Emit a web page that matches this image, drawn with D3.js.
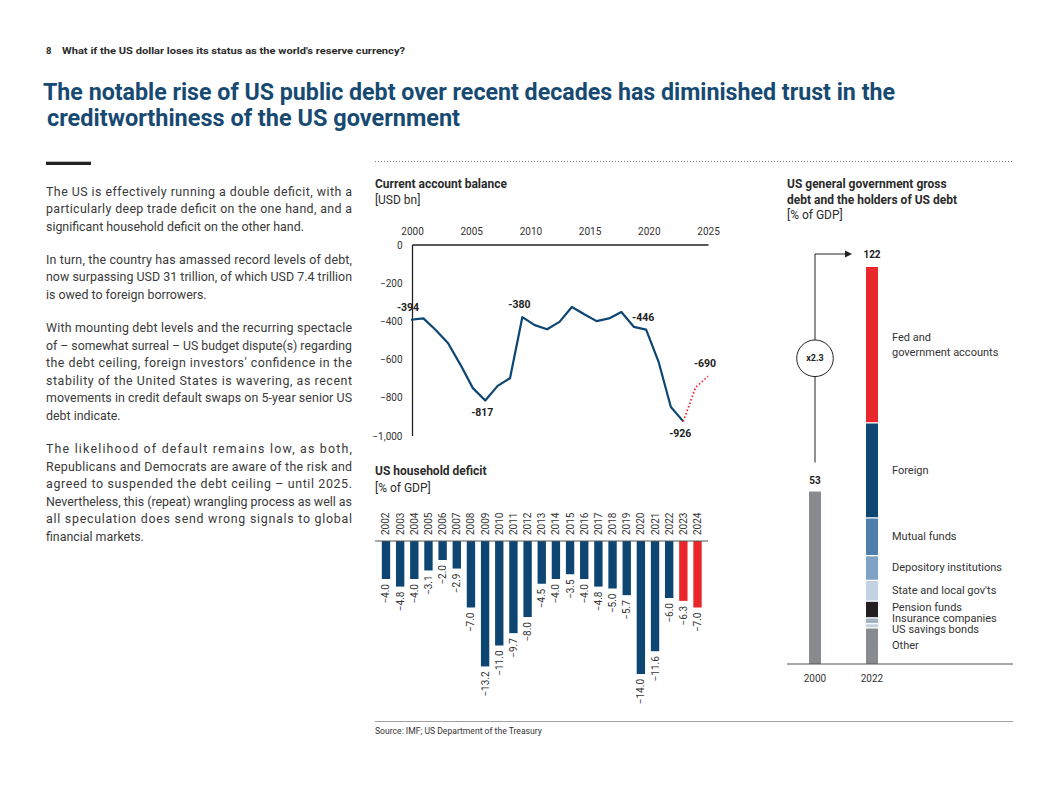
<!DOCTYPE html>
<meta charset="utf-8">
<head>
  <script src="https://d3js.org/d3.v7.min.js"></script>
  <style>
    body { margin: 0; background: #fff; font-family: Roboto, 'Noto Sans', sans-serif; }
  </style>
</head>
<body>
  <div id="chart"></div>
<script>
  // ---- data ----
  const ca_years = [2000, 2001, 2002, 2003, 2004, 2005, 2006, 2007, 2008, 2009, 2010, 2011,
    2012, 2013, 2014, 2015, 2016, 2017, 2018, 2019, 2020, 2021, 2022]
  const ca_values = [-394, -387, -448, -517, -630, -752, -817, -740, -700, -380, -422, -444,
    -405, -327, -365, -401, -387, -353, -431, -446, -613, -851, -926]
  const ca_proj_years = [2022, 2023, 2024]
  const ca_proj_values = [-926, -748, -690]
  const ca_label_years = [2000, 2006, 2009, 2019, 2022, 2024]
  const ca_label_below = [2006, 2022]
  const ca_tick_years = [2000, 2005, 2010, 2015, 2020, 2025]
  const ca_y_ticks = [0, -200, -400, -600, -800, -1000]

  const hh_years = ["2002", "2003", "2004", "2005", "2006", "2007", "2008", "2009", "2010", "2011", "2012",
    "2013", "2014", "2015", "2016", "2017", "2018", "2019", "2020", "2021", "2022", "2023", "2024"]
  const hh_values = [-4.0, -4.8, -4.0, -3.1, -2.0, -2.9, -7.0, -13.2, -11.0, -9.7, -8.0,
    -4.5, -4.0, -3.5, -4.0, -4.8, -5.0, -5.7, -14.0, -11.6, -6.0, -6.3, -7.0]
  const hh_projected = ["2023", "2024"]

  const debt_years = ["2000", "2022"]
  const debt_2000 = 53
  const holders = ["Other", "US savings bonds", "Insurance companies", "Pension funds",
    "State and local gov'ts", "Depository institutions", "Mutual funds", "Foreign", "Fed and government accounts"]
  const holder_labels = [["Other"], ["US savings bonds"], ["Insurance companies"], ["Pension funds"],
    ["State and local gov'ts"], ["Depository institutions"], ["Mutual funds"], ["Foreign"], ["Fed and", "government accounts"]]
  const holder_values = [11.3, 1.3, 1.8, 5.1, 6.4, 7.6, 11.6, 29.2, 47.7]
  const holder_colors = ["#878a8e", "#c4d0dc", "#a2b3c4", "#231f20", "#c3d2e2", "#7ea2c6", "#4e7eab", "#0d4673", "#e8262c"]

  const paragraphs = [
    ["The US is effectively running a double deficit, with a",
      "particularly deep trade deficit on the one hand, and a",
      "significant household deficit on the other hand."],
    ["In turn, the country has amassed record levels of debt,",
      "now surpassing USD 31 trillion, of which USD 7.4 trillion",
      "is owed to foreign borrowers."],
    ["With mounting debt levels and the recurring spectacle",
      "of \u2013 somewhat surreal \u2013 US budget dispute(s) regarding",
      "the debt ceiling, foreign investors' confidence in the",
      "stability of the United States is wavering, as recent",
      "movements in credit default swaps on 5-year senior US",
      "debt indicate."],
    ["The likelihood of default remains low, as both,",
      "Republicans and Democrats are aware of the risk and",
      "agreed to suspended the debt ceiling \u2013 until 2025.",
      "Nevertheless, this (repeat) wrangling process as well as",
      "all speculation does send wrong signals to global",
      "financial markets."]
  ]

  const navy = "#0d4673", red = "#e8262c", ink = "#2b2b2b"

  var svg = d3.select("#chart").append("svg")
    .attr("width", 1058).attr("height", 793)
    .style("font-family", "Roboto, 'Noto Sans', sans-serif")

  svg.append("rect").attr("width", 1058).attr("height", 793).attr("fill", "#fff")

  // ---- page header + title ----
  svg.append("text").attr("x", 46).attr("y", 54)
    .attr("font-size", 9.5).attr("font-weight", 700).attr("fill", ink).text("8")
  svg.append("text").attr("x", 62).attr("y", 54)
    .attr("font-size", 9.5).attr("font-weight", 700).attr("fill", ink)
    .attr("textLength", 343).attr("lengthAdjust", "spacingAndGlyphs")
    .text("What if the US dollar loses its status as the world's reserve currency?")

  svg.append("text").attr("x", 43).attr("y", 100)
    .attr("font-size", 23.5).attr("font-weight", 700).attr("fill", "#174a72")
    .attr("textLength", 852).attr("lengthAdjust", "spacingAndGlyphs")
    .text("The notable rise of US public debt over recent decades has diminished trust in the")
  svg.append("text").attr("x", 47).attr("y", 126)
    .attr("font-size", 23.5).attr("font-weight", 700).attr("fill", "#174a72")
    .attr("textLength", 413).attr("lengthAdjust", "spacingAndGlyphs")
    .text("creditworthiness of the US government")

  svg.append("rect").attr("x", 46).attr("y", 161.7).attr("width", 45).attr("height", 3.3).attr("fill", "#222")

  // dotted rule above the charts
  svg.append("line").attr("x1", 375).attr("x2", 1013).attr("y1", 161.5).attr("y2", 161.5)
    .attr("stroke", "#777").attr("stroke-width", 1).attr("stroke-dasharray", "1,2")

  // ---- body text (justified lines stretched to the column width) ----
  var lineY = 195.5
  paragraphs.forEach(p => {
    p.forEach((l, i) => {
      var t = svg.append("text").attr("x", 46).attr("y", lineY)
        .attr("font-size", 12.4).attr("fill", "#3a3a3a").text(l)
      if (i < p.length - 1) {
        var natural = t.node().getComputedTextLength()
        t.attr("textLength", 306).attr("lengthAdjust", natural > 306 ? "spacingAndGlyphs" : "spacing")
      }
      lineY += 17.6
    })
    lineY += 15.4
  })

  // ---- current account balance ----
  svg.append("text").attr("x", 375).attr("y", 188).attr("font-size", 12).attr("font-weight", 700)
    .attr("fill", ink).text("Current account balance")
  svg.append("text").attr("x", 375).attr("y", 204).attr("font-size", 12).attr("fill", ink).text("[USD bn]")

  var xCA = d3.scaleLinear().domain([2000, 2024]).range([411, 708])
  var xCAtick = d3.scaleLinear().domain([2000, 2025]).range([412, 708])
  var yCA = d3.scaleLinear().domain([0, -1000]).range([244.5, 435.5])

  var topAx = svg.append("g").attr("transform", "translate(0," + yCA(0) + ")")
    .call(d3.axisTop(xCAtick).tickValues(ca_tick_years).tickSize(0).tickPadding(9.5).tickFormat(d3.format("d")))
  var leftAx = svg.append("g").attr("transform", "translate(412,0)")
    .call(d3.axisLeft(yCA).tickValues(ca_y_ticks).tickSize(0).tickPadding(9.5).tickFormat(d3.format(",")))
  ;[topAx, leftAx].forEach(g => {
    g.attr("font-family", null).attr("font-size", null)
    g.select(".domain").attr("stroke", "#222").attr("stroke-width", 1.3)
    g.selectAll("text").attr("font-size", 10).attr("fill", "#333")
  })
  leftAx.selectAll("text").attr("dy", "0.35em")

  var line = d3.line().x(d => xCA(d[0])).y(d => yCA(d[1]))
  svg.append("path")
    .attr("d", line(d3.zip(ca_years, ca_values)))
    .attr("fill", "none").attr("stroke", navy).attr("stroke-width", 2.2).attr("stroke-linejoin", "round")
  svg.append("path")
    .attr("d", line(d3.zip(ca_proj_years, ca_proj_values)))
    .attr("fill", "none").attr("stroke", red).attr("stroke-width", 1.8).attr("stroke-dasharray", "1.5,2.2")

  var allCA = d3.zip(ca_years.concat(ca_proj_years.slice(1)), ca_values.concat(ca_proj_values.slice(1)))
  svg.selectAll(".ca-label")
    .data(allCA.filter(d => ca_label_years.includes(d[0])))
    .enter().append("text")
    .attr("x", d => xCA(d[0]) - 3)
    .attr("y", d => yCA(d[1]) + (ca_label_below.includes(d[0]) ? 15.5 : -9))
    .attr("text-anchor", "middle").attr("font-size", 10.5).attr("font-weight", 700).attr("fill", "#222")
    .text(d => d[1])

  // ---- household deficit ----
  svg.append("text").attr("x", 375).attr("y", 475).attr("font-size", 12).attr("font-weight", 700)
    .attr("fill", ink).text("US household deficit")
  svg.append("text").attr("x", 375).attr("y", 492).attr("font-size", 12).attr("fill", ink).text("[% of GDP]")

  var xHH = d3.scaleBand().domain(hh_years).range([378.9, 704.6]).paddingInner(0.41).paddingOuter(0.205)
  var yHH = d3.scaleLinear().domain([0, -14]).range([541, 674])
  var hh = d3.zip(hh_years, hh_values)

  svg.selectAll(".hh-bar").data(hh).enter().append("rect")
    .attr("x", d => xHH(d[0])).attr("width", xHH.bandwidth())
    .attr("y", yHH(0)).attr("height", d => yHH(d[1]) - yHH(0))
    .attr("fill", d => hh_projected.includes(d[0]) ? red : navy)

  svg.append("line").attr("x1", 375).attr("x2", 708).attr("y1", yHH(0)).attr("y2", yHH(0))
    .attr("stroke", "#555").attr("stroke-width", 1)

  svg.selectAll(".hh-year").data(hh).enter().append("text")
    .attr("transform", d => "translate(" + (xHH(d[0]) + xHH.bandwidth() / 2) + "," + (yHH(0) - 6) + ") rotate(-90)")
    .attr("dy", "0.35em").attr("font-size", 10).attr("fill", "#333").text(d => d[0])

  svg.selectAll(".hh-val").data(hh).enter().append("text")
    .attr("transform", d => "translate(" + (xHH(d[0]) + xHH.bandwidth() / 2) + "," + (yHH(d[1]) + 5) + ") rotate(-90)")
    .attr("dy", "0.35em").attr("text-anchor", "end").attr("font-size", 10).attr("fill", "#333")
    .text(d => d3.format(".1f")(d[1]))

  // source
  svg.append("line").attr("x1", 375).attr("x2", 1013).attr("y1", 721.5).attr("y2", 721.5)
    .attr("stroke", "#888").attr("stroke-width", 0.8)
  svg.append("text").attr("x", 375).attr("y", 734).attr("font-size", 8.6).attr("fill", "#333")
    .text("Source: IMF; US Department of the Treasury")

  // ---- gross debt and holders ----
  svg.append("text").attr("x", 787).attr("y", 188).attr("font-size", 12).attr("font-weight", 700)
    .attr("fill", ink).text("US general government gross")
  svg.append("text").attr("x", 787).attr("y", 204).attr("font-size", 12).attr("font-weight", 700)
    .attr("fill", ink).text("debt and the holders of US debt")
  svg.append("text").attr("x", 787).attr("y", 219).attr("font-size", 12).attr("fill", ink).text("[% of GDP]")

  var total = d3.sum(holder_values)
  var xD = d3.scaleBand().domain(debt_years).range([786.5, 900.5]).paddingInner(0.79).paddingOuter(0.395)
  var yD = d3.scaleLinear().domain([0, 122]).range([664, 267])
  var bw = xD.bandwidth()

  svg.append("rect").attr("x", xD("2000")).attr("width", bw)
    .attr("y", yD(debt_2000)).attr("height", yD(0) - yD(debt_2000)).attr("fill", "#878a8e")

  var cum = 0
  var segs = holder_values.map((v, i) => {
    var s = { name: holders[i], label: holder_labels[i], color: holder_colors[i], y0: cum, y1: cum + v }
    cum += v
    return s
  })
  svg.selectAll(".seg").data(segs).enter().append("rect")
    .attr("x", xD("2022")).attr("width", bw)
    .attr("y", (d, i) => yD(d.y1) + (i < segs.length - 1 ? 1.3 : 0))
    .attr("height", (d, i) => yD(d.y0) - yD(d.y1) - (i < segs.length - 1 ? 1.3 : 0))
    .attr("fill", d => d.color)

  svg.append("line").attr("x1", 787).attr("x2", 1013).attr("y1", yD(0)).attr("y2", yD(0))
    .attr("stroke", "#555").attr("stroke-width", 1)

  svg.selectAll(".d-year").data(debt_years).enter().append("text")
    .attr("x", d => xD(d) + bw / 2).attr("y", 682).attr("text-anchor", "middle")
    .attr("font-size", 10).attr("fill", "#333").text(d => d)

  svg.append("text").attr("x", xD("2000") + bw / 2).attr("y", yD(debt_2000) - 8).attr("text-anchor", "middle")
    .attr("font-size", 10).attr("font-weight", 700).attr("fill", "#222").text(debt_2000)
  svg.append("text").attr("x", xD("2022") + bw / 2).attr("y", yD(total) - 9).attr("text-anchor", "middle")
    .attr("font-size", 10).attr("font-weight", 700).attr("fill", "#222").text(d3.format(".0f")(total))

  // connector with multiplier
  var cx = xD("2000") + bw / 2
  var arrowY = yD(total) - 13
  var lineBottom = yD(debt_2000) - 29
  var cy = (arrowY + lineBottom) / 2, r = 18.3
  var arrowEnd = xD("2022") - 14
  svg.append("path")
    .attr("d", "M" + cx + "," + (cy - r) + "V" + arrowY + "H" + (arrowEnd - 6))
    .attr("fill", "none").attr("stroke", "#222").attr("stroke-width", 1)
  svg.append("path")
    .attr("d", "M" + (arrowEnd - 7) + "," + (arrowY - 3.6) + "L" + arrowEnd + "," + arrowY + "L" + (arrowEnd - 7) + "," + (arrowY + 3.6) + "Z")
    .attr("fill", "#222")
  svg.append("line").attr("x1", cx).attr("x2", cx).attr("y1", cy + r).attr("y2", lineBottom)
    .attr("stroke", "#222").attr("stroke-width", 1)
  svg.append("circle").attr("cx", cx).attr("cy", cy).attr("r", r)
    .attr("fill", "#fff").attr("stroke", "#222").attr("stroke-width", 1)
  svg.append("text").attr("x", cx).attr("y", cy).attr("dy", "0.35em").attr("text-anchor", "middle")
    .attr("font-size", 9).attr("font-weight", 700).attr("fill", "#222")
    .text("x" + d3.format(".1f")(total / debt_2000))

  // holder labels at segment centres, nudged apart where they'd overlap
  var labs = segs.map(d => ({ label: d.label, y: yD((d.y0 + d.y1) / 2) }))
  for (var it = 0; it < 40; it++) {
    for (var i = 0; i < labs.length - 1; i++) {
      var gap = labs[i].y - labs[i + 1].y
      if (gap < 11) {
        labs[i].y += (11 - gap) / 2
        labs[i + 1].y -= (11 - gap) / 2
      }
    }
  }
  var lx = xD("2022") + bw + 14
  labs.forEach(d => {
    var t = svg.append("text").attr("x", lx).attr("font-size", 11).attr("fill", "#333")
      .attr("y", d.y - (d.label.length - 1) * 7.3)
    d.label.forEach((s, k) => {
      t.append("tspan").attr("x", lx).attr("dy", k ? 14.6 : "0.35em").text(s)
    })
  })
</script>
</body>
